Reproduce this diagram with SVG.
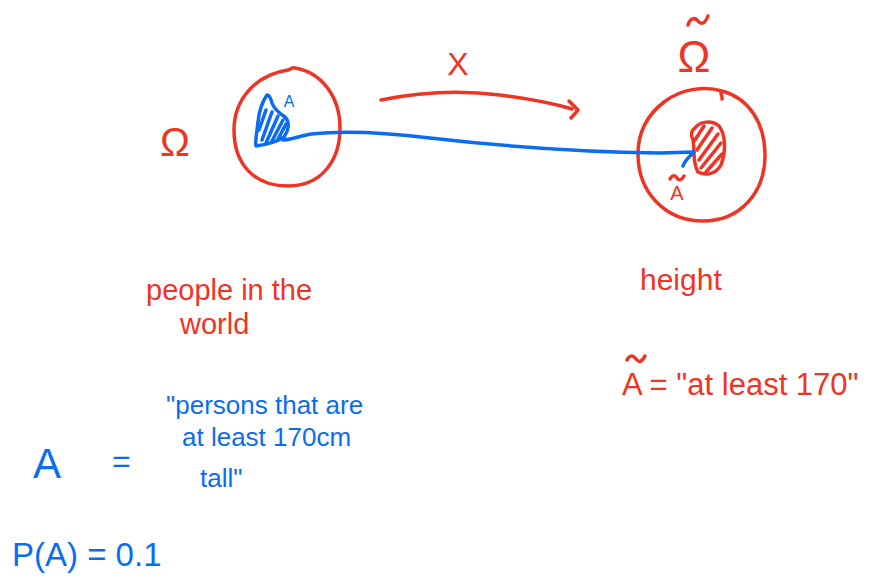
<svg xmlns="http://www.w3.org/2000/svg" width="895" height="579" viewBox="0 0 895 579">
<defs>
<style>
.r{stroke:#EE3424;fill:none;stroke-width:3.5;stroke-linecap:round;stroke-linejoin:round}
.b{stroke:#0A6CF2;fill:none;stroke-width:3.5;stroke-linecap:round;stroke-linejoin:round}
.tr{fill:#EE3424;font-family:"Liberation Sans",Arial,sans-serif}
.tb{fill:#0A6CF2;font-family:"Liberation Sans",Arial,sans-serif}
</style>
</defs>
<rect width="895" height="579" fill="#fff"/>
<g id="omega">
<text class="tr" x="175" y="156" font-size="40" text-anchor="middle">Ω</text>
</g>
<g id="left-circle">
<path class="r" d="M288,70 C255,75 234,100 234,130 C234,165 255,186 288,186 C322,186 340,160 340,128 C340,95 320,72 295,68 C292,67 290,70 288,70"/>
</g>
<g id="set-A">
<path class="b" d="M267,95 C262,102 259,112 258,122 C257,132 255,140 256,146 C264,145 276,142 284,137 C289,130 290,122 285,117 C279,113 274,109 272,103 C271,99 269,95 267,95 Z"/>
<path class="b" d="M262,140 L272,112 M266,143 L278,116 M272,141 L283,120 M278,139 L286,124 M259,130 L266,110" stroke-width="2.5"/>
<text class="tb" x="289" y="107" font-size="16" text-anchor="middle">A</text>
</g>
<g id="X-label">
<text class="tr" x="458" y="75" font-size="32" text-anchor="middle">X</text>
</g>
<g id="right-circle">
<path class="r" d="M722,91 C706,86 682,88 664,102 C646,116 638,134 638,154 C638,192 665,221 703,221 C740,221 765,193 765,155 C765,122 748,98 722,91 C719,93 723,96 722,99"/>
</g>
<g id="omega-tilde">
<text class="tr" x="694" y="72" font-size="44" text-anchor="middle">Ω</text>
<path class="r" d="M688,25 C690,18 695,17 698,21 C701,25 705,24 708,16"/>
</g>
<g id="set-A-tilde">
<path class="r" d="M695,128 C700,121 712,120 719,126 C726,135 726,152 721,165 C716,174 706,176 698,172 C692,162 695,150 693,140 C690,134 692,130 695,128 Z" fill="#F39488"/>
<path class="r" d="M697,150 L712,128 M699,160 L718,134 M701,168 L721,143 M706,172 L722,154 M695,140 L704,126" stroke-width="3"/>
<text class="tr" x="677" y="200" font-size="20" text-anchor="middle">A</text>
<path class="r" d="M670,179 C672,175 675,175 677,178 C679,181 682,180 684,176" stroke-width="2.5"/>
</g>
<g id="connectors">
<path class="r" d="M381,100 C420,92 460,90 500,95 C530,99 555,104 572,109"/>
<path class="r" d="M569,101 L578,110 L571,118"/>
<path class="b" d="M283,140 C295,139 302,135 312,134 C340,131 380,132 430,138 C500,146 580,152 660,153 L694,152 C689,157 685,160 683,166"/>
</g>
<g id="labels">
<text class="tr" x="146" y="300" font-size="29">people in the</text>
<text class="tr" x="180" y="334" font-size="29">world</text>
<text class="tr" x="640" y="290" font-size="30">height</text>
<text class="tr" x="622" y="395" font-size="31">A = "at least 170"</text>
<path class="r" d="M627,360 C629,355 633,355 636,359 C639,363 642,362 645,356" stroke-width="2.5"/>
<text class="tb" x="33" y="478" font-size="42">A</text>
<text class="tb" x="112" y="472" font-size="32">=</text>
<text class="tb" x="166" y="414" font-size="26">"persons that are</text>
<text class="tb" x="182" y="446" font-size="26">at least 170cm</text>
<text class="tb" x="200" y="487" font-size="26">tall"</text>
<text class="tb" x="12" y="566" font-size="33">P(A) = 0.1</text>
</g>
</svg>
